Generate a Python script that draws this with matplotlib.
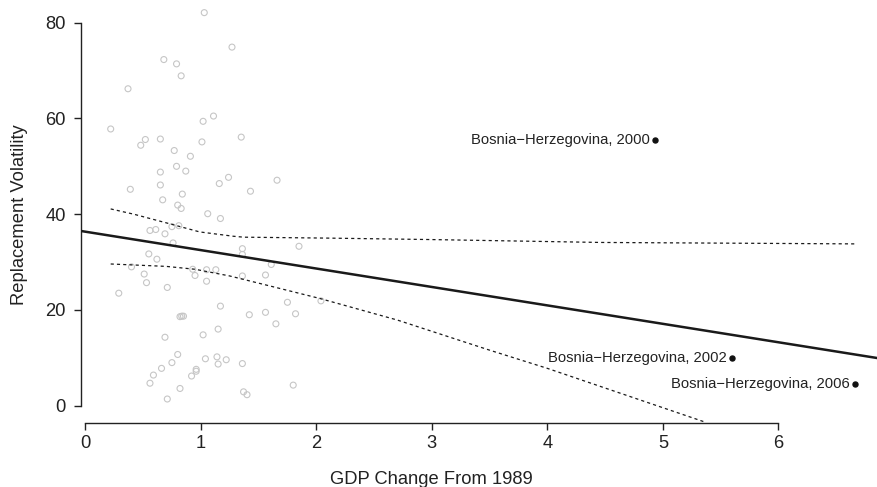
import matplotlib
matplotlib.use("Agg")
import matplotlib.pyplot as plt
from matplotlib.transforms import blended_transform_factory

plt.rcParams['font.family'] = ['Liberation Sans', 'DejaVu Sans']

# GDP change from 1989 vs replacement volatility (grey points)
gdp_change = [
    1.03, 1.27, 0.68, 0.79, 0.83, 0.37, 1.11, 1.02, 0.22, 0.52,
    0.65, 0.48, 1.35, 1.01, 0.77, 0.91, 0.79, 0.87, 0.65, 1.24,
    1.16, 1.66, 0.65, 1.43, 0.39, 0.84, 0.67, 0.80, 0.83, 1.06,
    1.17, 0.56, 0.61, 0.69, 0.75, 0.81, 0.76, 1.36, 1.36, 1.85,
    0.55, 0.62, 1.61, 0.40, 0.93, 1.05, 1.13, 0.51, 0.95, 1.36,
    1.56, 0.53, 1.05, 0.71, 0.29, 1.75, 2.04, 1.17, 1.56, 1.82,
    1.42, 0.82, 0.835, 0.85, 1.15, 1.65, 0.69, 1.02, 0.80, 1.04,
    1.14, 1.22, 1.15, 1.36, 0.75, 0.66, 0.96, 0.96, 0.59, 0.92,
    0.56, 1.80, 0.82, 1.37, 1.40, 0.71,
]
volatility = [
    82.1, 74.9, 72.3, 71.4, 68.9, 66.2, 60.5, 59.4, 57.8, 55.6,
    55.7, 54.4, 56.1, 55.1, 53.3, 52.1, 50.0, 49.0, 48.8, 47.7,
    46.4, 47.1, 46.1, 44.8, 45.2, 44.2, 43.0, 41.9, 41.2, 40.1,
    39.1, 36.6, 36.8, 35.9, 37.4, 37.6, 34.0, 32.8, 31.6, 33.3,
    31.7, 30.6, 29.5, 29.0, 28.5, 28.4, 28.4, 27.5, 27.2, 27.1,
    27.3, 25.7, 26.0, 24.7, 23.5, 21.6, 21.9, 20.8, 19.5, 19.2,
    19.0, 18.6, 18.7, 18.7, 16.0, 17.1, 14.3, 14.8, 10.7, 9.8,
    10.2, 9.6, 8.7, 8.8, 9.0, 7.8, 7.6, 7.2, 6.4, 6.2,
    4.7, 4.3, 3.6, 2.9, 2.3, 1.4,
]

# highlighted cases
case_labels = ["Bosnia\u2212Herzegovina, 2000", "Bosnia\u2212Herzegovina, 2002",
               "Bosnia\u2212Herzegovina, 2006"]
case_gdp = [4.93, 5.60, 6.66]
case_vol = [55.6, 10.0, 4.5]

# fitted line
fit_intercept = 36.35
fit_slope = -3.85

# dashed bands
upper_x = [0.22, 0.42, 0.70, 0.99, 1.28, 1.37, 2.12, 3.0, 4.46, 6.66]
upper_y = [41.1, 40.0, 38.2, 36.3, 35.4, 35.2, 35.0, 34.7, 34.1, 33.8]
lower_x = [0.22, 0.70, 0.95, 1.25, 1.60, 2.03, 2.70, 3.50, 4.0, 5.35]
lower_y = [29.6, 29.1, 28.5, 27.1, 25.0, 22.4, 17.9, 11.6, 7.8, -3.3]

fig = plt.figure(figsize=(8.78, 4.87), dpi=100)
ax = fig.add_axes([81 / 878, 64.3 / 487, 797 / 878, 422.7 / 487])

ax.scatter(gdp_change, volatility, s=4.3**2, facecolors='none',
           edgecolors='#c6c6c6', linewidths=0.8, zorder=2)
ax.axline((0, fit_intercept), slope=fit_slope, color='#1a1a1a', lw=1.8, zorder=3)
ax.plot(upper_x, upper_y, color='#1a1a1a', lw=0.9, ls=(0, (2.5, 2.5)), zorder=3)
ax.plot(lower_x, lower_y, color='#1a1a1a', lw=0.9, ls=(0, (2.5, 2.5)), zorder=3)

ax.scatter(case_gdp, case_vol, s=3.6**2, color='#111111', zorder=4)
for lab, x, y in zip(case_labels, case_gdp, case_vol):
    ax.annotate(lab, (x, y), xytext=(-5, 0), textcoords='offset pixels',
                ha='right', va='center', fontsize=10.6, color='#222222')

ax.set_xlim(-0.037, 6.862)
ax.set_ylim(-3.55, 84.74)
ax.set_xticks(range(0, 7))
ax.set_yticks([0, 20, 40, 60, 80])

for side in ['top', 'right']:
    ax.spines[side].set_visible(False)
ax.spines['left'].set_bounds(0, 80)
ax.spines['bottom'].set_bounds(0, 6)
for side in ['left', 'bottom']:
    ax.spines[side].set_linewidth(1.0)
    ax.spines[side].set_color('#222222')
ax.tick_params(axis='both', direction='out', length=5, width=1.0,
               colors='#222222', labelsize=13.2)
ax.tick_params(axis='y', pad=6)
ax.tick_params(axis='x', pad=4)

# axis titles
tx = blended_transform_factory(ax.transData, fig.transFigure)
ax.text(3, 3.5 / 487, "GDP Change From 1989", transform=tx, ha='center',
        va='baseline', fontsize=13.2, color='#222222')
ty = blended_transform_factory(fig.transFigure, ax.transData)
ax.text(20 / 878, 40, "Replacement Volatility", transform=ty, ha='center',
        va='center', rotation=90, fontsize=13.2, color='#222222')

fig.savefig("out.png", dpi=100)
